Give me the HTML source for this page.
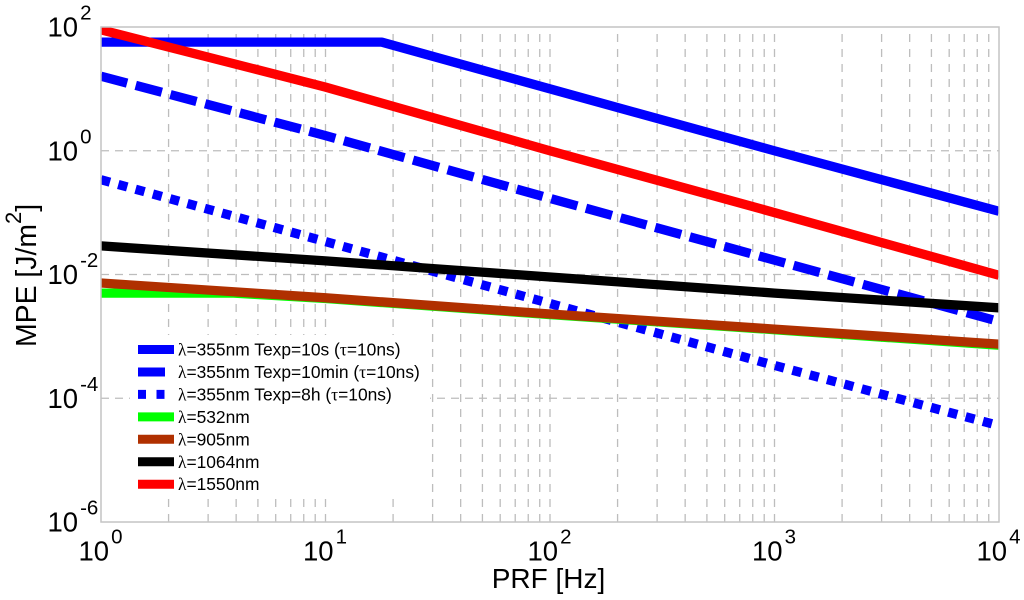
<!DOCTYPE html>
<html lang="en">
<head>
<meta charset="utf-8">
<title>MPE versus PRF</title>
<style>
html,body{margin:0;padding:0;background:#fff;width:1024px;height:600px;overflow:hidden}
svg{display:block;filter:blur(0.35px)}
text{font-family:"Liberation Sans",sans-serif;fill:#000}
.sym{font-family:"Liberation Serif",serif}
</style>
</head>
<body>
<svg id="chart" xmlns="http://www.w3.org/2000/svg" width="1024" height="600" viewBox="0 0 1024 600">
<defs><clipPath id="plot-clip"><rect x="101" y="27" width="898" height="495"/></clipPath></defs>
<rect x="0" y="0" width="1024" height="600" fill="#fff"/>
<g id="grid"></g>
<g id="series" clip-path="url(#plot-clip)"></g>
<g id="axes"></g>
<g id="legend"></g>
<text x="548.5" y="588" font-size="28" text-anchor="middle">PRF [Hz]</text>
<text transform="translate(36,347) rotate(-90)" font-size="28.4">MPE [J/m<tspan font-size="22" dy="-15">2</tspan><tspan dy="15">]</tspan></text>
</svg>
<script>
const xTickExponents = [0, 1, 2, 3, 4];
const yTickExponents = [2, 0, -2, -4, -6];
const minorMultipliers = [2, 3, 4, 5, 6, 7, 8, 9];

const prf355Long = [1, 17.8, 100, 1000, 10000];
const mpe355Texp10s = [57, 57, 10, 1, 0.105];
const prfDecades = [1, 10, 100, 1000, 10000];
const mpe355Texp10min = [16, 1.76, 0.17, 0.017, 0.00174];
const mpe355Texp8h = [0.34, 0.034, 0.0034, 0.00034, 0.000036];
const prf532 = [1, 3.9, 10, 100, 1000, 10000];
const mpe532 = [0.005, 0.005, 0.0041, 0.00225, 0.00128, 0.00072];
const mpe905 = [0.0073, 0.0042, 0.0023, 0.00131, 0.00075];
const mpe1064 = [0.029, 0.0166, 0.0091, 0.005, 0.0029];
const mpe1550 = [90, 10.7, 1, 0.1, 0.0097];

const legendLabels = [
  ["λ", "=355nm Texp=10s (", "τ", "=10ns)"],
  ["λ", "=355nm Texp=10min (", "τ", "=10ns)"],
  ["λ", "=355nm Texp=8h (", "τ", "=10ns)"],
  ["λ", "=532nm"],
  ["λ", "=905nm"],
  ["λ", "=1064nm"],
  ["λ", "=1550nm"]
];

const NS = "http://www.w3.org/2000/svg";
const plotLeft = 101, plotRight = 999, plotTop = 27, plotBottom = 522;
const xScale = v => plotLeft + (Math.log10(v) - 0) / 4 * (plotRight - plotLeft);
const yScale = v => plotTop + (2 - Math.log10(v)) / 8 * (plotBottom - plotTop);

function make(tag, parent, attrs) {
  const el = document.createElementNS(NS, tag);
  for (const k in attrs) el.setAttribute(k, attrs[k]);
  parent.appendChild(el);
  return el;
}

const grid = document.getElementById("grid");
const seriesLayer = document.getElementById("series");
const axes = document.getElementById("axes");
const legend = document.getElementById("legend");
const gridColor = "#bdbdbd";

for (const e of xTickExponents.slice(0, -1)) {
  for (const m of minorMultipliers) {
    const x = xScale(m * Math.pow(10, e));
    const l = make("line", grid, {x1: x, x2: x, y1: plotBottom, y2: plotTop, stroke: gridColor, "stroke-width": 1.3, "stroke-dasharray": "8 7"});
    
    
  }
}
for (const e of xTickExponents.slice(1, -1)) {
  const x = xScale(Math.pow(10, e));
  const l = make("line", grid, {x1: x, x2: x, y1: plotBottom, y2: plotTop, stroke: gridColor, "stroke-width": 1.3, "stroke-dasharray": "8 7"});
  
  
}
for (const e of yTickExponents.slice(1, -1)) {
  const y = yScale(Math.pow(10, e));
  const l = make("line", grid, {x1: plotLeft, x2: plotRight, y1: y, y2: y, stroke: gridColor, "stroke-width": 1.3, "stroke-dasharray": "8 6"});
  
  
}

const seriesStyles = [
  {xs: prf355Long, ys: mpe355Texp10s, color: "#0000ff", dash: ""},
  {xs: prfDecades, ys: mpe355Texp10min, color: "#0000ff", dash: "27 8.9"},
  {xs: prfDecades, ys: mpe355Texp8h, color: "#0000ff", dash: "9.3 8.63"},
  {xs: prf532, ys: mpe532, color: "#00ff00", dash: ""},
  {xs: prfDecades, ys: mpe905, color: "#b03000", dash: ""},
  {xs: prfDecades, ys: mpe1064, color: "#000000", dash: ""},
  {xs: prfDecades, ys: mpe1550, color: "#ff0000", dash: ""}
];

seriesStyles.forEach(function (s, i) {
  const pts = s.xs.map((f, j) => xScale(f).toFixed(1) + "," + yScale(s.ys[j]).toFixed(1)).join(" ");
  const line = make("polyline", seriesLayer, {points: pts, fill: "none", stroke: s.color, "stroke-width": 9.3, "stroke-linejoin": "round"});
  if (s.dash) line.setAttribute("stroke-dasharray", s.dash);
  
  
});

const frame = make("rect", axes, {x: plotLeft, y: plotTop, width: plotRight - plotLeft, height: plotBottom - plotTop, fill: "none", stroke: "#c4c4c4", "stroke-width": 1.5});



function powerLabel(parent, x, y, exponent, name) {
  const t = make("text", parent, {x: x, y: y, "font-size": 27.5});
  
  
  t.textContent = "10";
  const s = make("tspan", t, {"font-size": 20.5, dy: -17, dx: 2});
  s.textContent = String(exponent);
}

for (const e of xTickExponents) {
  powerLabel(axes, xScale(Math.pow(10, e)) - 22.5, 560.5, e, "x-tick-label");
}
for (const e of yTickExponents) {
  powerLabel(axes, 47.5, yScale(Math.pow(10, e)) + 9.5, e, "y-tick-label");
}

const legendBox = make("rect", legend, {x: 130, y: 335, width: 300, height: 160, fill: "#fff"});



const swatchDash = ["", "27 9", "8 10.5", "", "", "", ""];
legendLabels.forEach(function (parts, i) {
  const y = 349.5 + i * 22.45;
  const st = seriesStyles[i];
  const sw = make("line", legend, {x1: 138, x2: 174, y1: y, y2: y, stroke: st.color, "stroke-width": 9});
  if (swatchDash[i]) sw.setAttribute("stroke-dasharray", swatchDash[i]);
  
  
  const t = make("text", legend, {x: 178, y: y + 6, "font-size": 17.4});
  
  
  parts.forEach(function (p) {
    const sp = make("tspan", t, {});
    if (p === "λ" || p === "τ") sp.setAttribute("class", "sym");
    sp.textContent = p;
  });
});
</script>
</body>
</html>
